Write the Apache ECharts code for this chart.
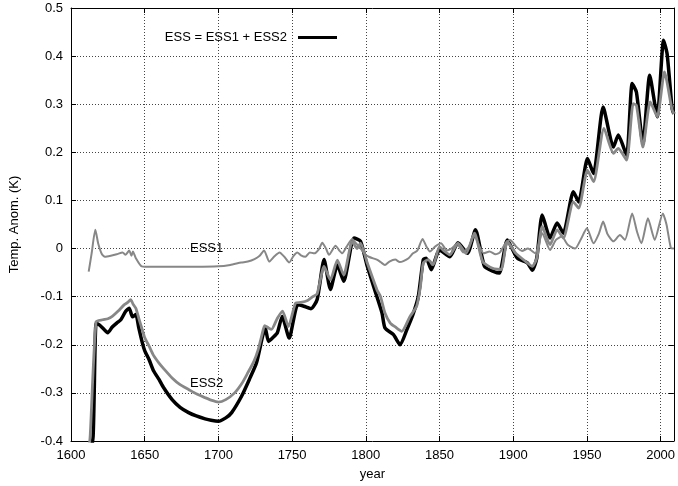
<!DOCTYPE html>
<html>
<head>
<meta charset="utf-8">
<script src="https://cdn.jsdelivr.net/npm/echarts@6/dist/echarts.min.js"></script>
<style>
	html, body { margin: 0; padding: 0; background: #fff; }
	#chart { width: 678px; height: 486px; }
</style>
</head>
<body>
<div id="chart"></div>
<script>
// ESS = ESS1 + ESS2 (black)
const essYears = [1612, 1615, 1617, 1619, 1621.5, 1624.9, 1628, 1631, 1633.8, 1637, 1639.5, 1641.7, 1644, 1646, 1648.4,
	1650, 1653, 1656, 1659.7, 1663, 1668.6, 1674, 1679.8, 1685, 1691, 1695, 1700, 1705, 1709, 1715.7, 1721, 1725.8, 1730,
	1731.8, 1734, 1737, 1740, 1743.3, 1748, 1753.8, 1758, 1762.8, 1767, 1771.7, 1776, 1780.7, 1785, 1792, 1796.4, 1801,
	1807, 1811, 1813, 1818.8, 1823.3, 1827.8, 1832, 1835.6, 1839, 1841, 1844.4, 1850, 1857, 1862.5, 1869, 1874.4, 1880.5,
	1887, 1890.6, 1896, 1902.8, 1909.6, 1913, 1916, 1919.7, 1925, 1929.8, 1934, 1940.8, 1944.4, 1950.4, 1954.5, 1961,
	1968, 1971.3, 1976.9, 1980.7, 1983.6, 1988, 1992.6, 1997.7, 2002, 2004.4, 2007.8, 2009];
const essValues = [-0.45, -0.39, -0.155, -0.158, -0.165, -0.175, -0.163, -0.155, -0.148, -0.131, -0.124, -0.142, -0.137, -0.165, -0.196,
	-0.212, -0.231, -0.254, -0.272, -0.29, -0.314, -0.33, -0.341, -0.348, -0.354, -0.357, -0.359, -0.352, -0.341, -0.307, -0.272, -0.238, -0.182,
	-0.165, -0.193, -0.185, -0.175, -0.141, -0.186, -0.117, -0.12, -0.125, -0.106, -0.023, -0.085, -0.034, -0.068, 0.022, 0.015, -0.037,
	-0.095, -0.134, -0.165, -0.179, -0.2, -0.169, -0.137, -0.1, -0.023, -0.02, -0.044, -0.003, -0.017, 0.012, -0.01, 0.039, -0.037,
	-0.048, -0.051, 0.018, -0.02, -0.03, -0.045, -0.02, 0.07, 0.022, 0.053, 0.032, 0.118, 0.097, 0.187, 0.156, 0.294,
	0.211, 0.236, 0.194, 0.343, 0.325, 0.218, 0.36, 0.274, 0.433, 0.405, 0.291, 0.28];

// ESS2 (grey, thick)
const ess2Years = [1611, 1613, 1617, 1621.5, 1625, 1628, 1632, 1636, 1638.5, 1640.5, 1642, 1644, 1646, 1648.4, 1650, 1653, 1656,
	1659.7, 1663, 1668.6, 1674, 1679.8, 1685, 1691, 1695, 1700, 1705, 1711, 1716, 1720, 1724, 1727, 1729.5, 1731.4, 1734,
	1736, 1740, 1743.5, 1747.5, 1752.5, 1756, 1760.5, 1764, 1767, 1771.7, 1776, 1780.7, 1785, 1790.8, 1794, 1796.4, 1801,
	1807.6, 1810, 1813, 1816.6, 1820, 1824.4, 1830, 1834.5, 1837, 1839, 1842.3, 1845.7, 1850, 1853, 1857, 1862.5, 1868,
	1873.7, 1879.3, 1886, 1891.7, 1896, 1901.8, 1908.5, 1913, 1916, 1919.7, 1925, 1929.8, 1934, 1940.8, 1944.4, 1950.4,
	1954.5, 1961.6, 1968, 1971.3, 1976.9, 1981.4, 1983.6, 1988, 1993, 1997.7, 2002.6, 2007.6, 2009];
const ess2Values = [-0.45, -0.39, -0.152, -0.148, -0.146, -0.141, -0.13, -0.117, -0.112, -0.106, -0.115, -0.124, -0.145, -0.169, -0.185, -0.203, -0.222,
	-0.238, -0.25, -0.269, -0.283, -0.293, -0.302, -0.31, -0.315, -0.319, -0.314, -0.3, -0.28, -0.258, -0.235, -0.21, -0.18, -0.16, -0.165,
	-0.168, -0.145, -0.13, -0.162, -0.113, -0.112, -0.108, -0.1, -0.094, -0.037, -0.065, -0.024, -0.055, 0.015, 0.0, 0.011, -0.03,
	-0.086, -0.1, -0.134, -0.155, -0.163, -0.172, -0.141, -0.12, -0.08, -0.03, -0.023, -0.034, 0.004, -0.005, -0.013, 0.011, -0.01,
	0.032, -0.027, -0.041, -0.044, 0.015, -0.01, -0.027, -0.037, -0.02, 0.046, 0.008, 0.039, 0.022, 0.097, 0.084, 0.163,
	0.139, 0.25, 0.198, 0.208, 0.184, 0.301, 0.298, 0.211, 0.305, 0.274, 0.367, 0.291, 0.28];

// ESS1 (grey, thin)
const ess1Years = [1612, 1614, 1616.5, 1618.5, 1621, 1623, 1627, 1631, 1635, 1637, 1639.5, 1641, 1642, 1644, 1648, 1655, 1670,
	1685, 1700, 1708, 1715.5, 1720, 1724.5, 1728, 1731, 1734.5, 1738, 1741.5, 1745, 1748, 1751, 1753.5, 1756, 1759, 1762,
	1765, 1768, 1770.5, 1773, 1775, 1779.5, 1782, 1784, 1787, 1790.8, 1793, 1796.5, 1799, 1802, 1807.5, 1810, 1813, 1816,
	1820, 1823, 1825.5, 1829, 1832, 1835, 1838.5, 1841, 1843.5, 1847, 1851, 1855, 1858, 1862, 1866, 1870, 1873.5, 1877,
	1880, 1884, 1888, 1891, 1895, 1898, 1902, 1906, 1910, 1915, 1919.7, 1925, 1929, 1933, 1937, 1942, 1946, 1950, 1954.5,
	1958, 1961, 1964, 1968, 1972.4, 1975.8, 1980.7, 1984, 1987, 1991.4, 1996, 2001.5, 2004, 2007, 2009];
const ess1Values = [-0.048, -0.01, 0.039, 0.01, -0.012, -0.017, -0.015, -0.012, -0.008, -0.013, -0.004, -0.015, -0.006, -0.02, -0.037, -0.038, -0.038,
	-0.038, -0.037, -0.034, -0.029, -0.027, -0.022, -0.015, -0.004, -0.027, -0.016, -0.008, -0.018, -0.029, -0.015, -0.008, -0.014, -0.017, -0.008,
	-0.01, -0.002, 0.012, 0.0, -0.013, 0.006, -0.004, -0.01, 0.004, 0.02, 0.012, 0.0, -0.01, -0.017, -0.023, -0.028, -0.034, -0.027,
	-0.023, -0.028, -0.026, -0.02, -0.01, -0.004, 0.02, 0.005, -0.006, 0.004, 0.011, -0.004, 0.0, 0.01, -0.008, 0.004, 0.028, 0.005,
	-0.01, -0.006, -0.012, -0.008, 0.012, 0.018, 0.004, -0.005, 0.0, -0.01, 0.032, -0.003, 0.018, 0.025, 0.008, 0.0, 0.02, 0.042, 0.011,
	0.03, 0.056, 0.03, 0.015, 0.028, 0.018, 0.073, 0.035, 0.011, 0.063, 0.018, 0.073, 0.05, 0.001, 0.0];

const zip = (xs, ys) => xs.map((x, i) => [x, ys[i]]);

const FONT = 'Liberation Sans, Arial, Helvetica, sans-serif';
const GREY = '#878787';

const myChart = echarts.init(document.getElementById('chart'), null, { renderer: 'canvas' });

const hiddenAxis = {
	axisLabel: { show: false },
	splitLine: { show: false },
	axisLine: { show: true, onZero: false, lineStyle: { color: '#000', width: 1 } },
	axisTick: { show: true, inside: true, length: 5, lineStyle: { color: '#000' } },
};

myChart.setOption({
	animation: false,
	grid: { left: 68, right: 2, top: 8, bottom: 44 },
	legend: {
		data: ['ESS = ESS1 + ESS2'],
		right: 336,
		top: 26,
		align: 'right',
		icon: 'rect',
		itemWidth: 39,
		itemHeight: 3,
		textStyle: { fontFamily: FONT, fontSize: 13, color: '#000', padding: [0, 6, 0, 0] },
	},
	xAxis: [
		{
			type: 'value',
			min: 1600,
			max: 2009,
			interval: 50,
			name: 'year',
			nameLocation: 'middle',
			nameGap: 27,
			nameTextStyle: { fontFamily: FONT, fontSize: 13, color: '#000' },
			axisLine: { show: true, onZero: false, lineStyle: { color: '#000', width: 1 } },
			axisTick: { show: true, inside: true, length: 5, lineStyle: { color: '#000' } },
			axisLabel: {
				fontFamily: FONT, fontSize: 13, color: '#000', margin: 8,
				formatter: (v) => (v % 50 === 0 ? String(v) : ''),
			},
			splitLine: { show: true, lineStyle: { color: '#444', width: 1, type: [1, 2] } },
		},
		Object.assign({ type: 'value', position: 'top', min: 1600, max: 2009, interval: 50 }, hiddenAxis),
	],
	yAxis: [
		{
			type: 'value',
			min: -0.4,
			max: 0.5,
			interval: 0.1,
			name: 'Temp. Anom. (K)',
			nameLocation: 'middle',
			nameGap: 50,
			nameTextStyle: { fontFamily: FONT, fontSize: 13, color: '#000' },
			axisLine: { show: true, onZero: false, lineStyle: { color: '#000', width: 1 } },
			axisTick: { show: true, inside: true, length: 5, lineStyle: { color: '#000' } },
			axisLabel: {
				fontFamily: FONT, fontSize: 13, color: '#000', margin: 8,
				formatter: (v) => String(Math.round(v * 10) / 10),
			},
			splitLine: { show: true, lineStyle: { color: '#444', width: 1, type: [1, 2] } },
		},
		Object.assign({ type: 'value', position: 'right', min: -0.4, max: 0.5, interval: 0.1 }, hiddenAxis),
	],
	series: [
		{
			name: 'ESS = ESS1 + ESS2',
			type: 'line',
			data: zip(essYears, essValues),
			showSymbol: false,
			smooth: 0.2,
			itemStyle: { color: '#000' },
			lineStyle: { color: '#000', width: 3.5, join: 'round' },
			z: 2,
		},
		{
			name: 'ESS2',
			type: 'line',
			data: zip(ess2Years, ess2Values),
			showSymbol: false,
			smooth: 0.2,
			lineStyle: { color: GREY, width: 2.8, join: 'round' },
			z: 3,
			markPoint: {
				symbol: 'circle',
				symbolSize: 0,
				data: [{ coord: [1692, -0.28], value: 'ESS2' }],
				label: { show: true, position: 'inside', formatter: 'ESS2', fontFamily: FONT, fontSize: 13, color: '#000' },
			},
		},
		{
			name: 'ESS1',
			type: 'line',
			data: zip(ess1Years, ess1Values),
			showSymbol: false,
			smooth: 0.2,
			lineStyle: { color: GREY, width: 2, join: 'round' },
			z: 4,
			markPoint: {
				symbol: 'circle',
				symbolSize: 0,
				data: [{ coord: [1692, 0.0], value: 'ESS1' }],
				label: { show: true, position: 'inside', formatter: 'ESS1', fontFamily: FONT, fontSize: 13, color: '#000' },
			},
		},
	],
});
</script>
</body>
</html>
